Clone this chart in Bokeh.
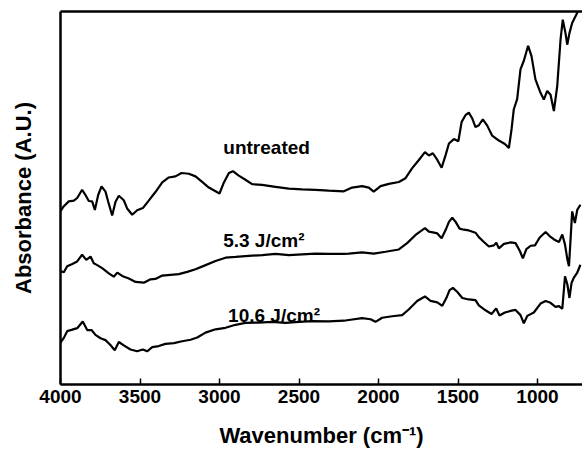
from bokeh.plotting import figure
from bokeh.models import Range1d, FixedTicker, LinearAxis, Label
from bokeh.embed import file_html
from bokeh.resources import INLINE

# ---- data (wavenumber in cm^-1, absorbance in arbitrary units) ----
wn_untreated = [4000, 3979, 3948, 3916, 3895, 3864, 3843, 3822, 3801, 3784, 3763, 3742, 3717, 3700,
                3675, 3654, 3633, 3602, 3581, 3549, 3518, 3482, 3445, 3403, 3360, 3319, 3277, 3239,
                3193, 3151, 3109, 3067, 3025, 3000, 2973, 2941, 2916, 2879, 2837, 2795, 2732, 2648,
                2564, 2480, 2396, 2313, 2218, 2166, 2103, 2061, 2030, 1987, 1935, 1872, 1830, 1788,
                1746, 1708, 1683, 1658, 1630, 1603, 1578, 1557, 1526, 1498, 1477, 1453, 1432, 1410,
                1390, 1369, 1344, 1316, 1285, 1243, 1205, 1180, 1163, 1149, 1128, 1107, 1086, 1059,
                1038, 1013, 981, 960, 939, 918, 897, 876, 855, 841, 824, 813, 799, 782, 761, 740]
abs_untreated = [46.5, 47.8, 49.1, 49.3, 50.0, 52.2, 50.8, 49.2, 49.1, 46.8, 50.8, 53.1, 51.7, 49.0,
                 45.3, 49.0, 50.6, 49.4, 47.2, 45.5, 46.7, 47.3, 49.3, 51.6, 54.2, 55.5, 55.8, 56.7,
                 56.5, 55.8, 54.3, 52.8, 51.8, 51.2, 54.1, 56.7, 57.2, 56.0, 54.9, 53.7, 53.5, 53.0,
                 52.5, 52.3, 52.2, 52.0, 51.8, 52.8, 53.2, 52.8, 51.7, 53.2, 53.8, 54.3, 55.3, 58.0,
                 60.2, 62.3, 61.4, 62.0, 60.2, 58.1, 61.5, 64.6, 65.8, 65.2, 70.4, 72.2, 72.9, 71.3,
                 69.0, 69.5, 71.1, 69.4, 66.7, 65.4, 64.5, 63.4, 68.5, 73.8, 76.5, 84.5, 86.8, 90.8,
                 88.1, 81.8, 78.2, 76.4, 78.7, 77.7, 73.3, 80.0, 92.5, 97.8, 94.2, 91.1, 94.2, 96.9,
                 98.7, 100.5]

wn_53 = [4000, 3979, 3958, 3926, 3895, 3864, 3838, 3811, 3791, 3769, 3738, 3696, 3665, 3643, 3612,
         3570, 3528, 3476, 3434, 3403, 3360, 3308, 3256, 3203, 3151, 3099, 3025, 2962, 2899, 2816,
         2731, 2648, 2564, 2480, 2396, 2313, 2218, 2187, 2103, 2030, 1956, 1872, 1820, 1767, 1708,
         1683, 1658, 1630, 1603, 1578, 1557, 1536, 1515, 1490, 1463, 1432, 1390, 1369, 1337, 1306,
         1274, 1259, 1243, 1211, 1169, 1138, 1111, 1092, 1070, 1043, 1016, 986, 949, 924, 896, 865,
         844, 827, 812, 802, 791, 782, 765, 750, 730]
abs_53 = [30.4, 30.1, 31.7, 32.3, 33.0, 34.8, 33.4, 34.3, 32.5, 32.0, 31.2, 29.8, 28.9, 30.0, 29.1,
          28.4, 27.5, 27.3, 28.2, 28.3, 29.2, 29.4, 29.6, 30.2, 30.9, 31.8, 33.1, 34.0, 34.2, 34.5,
          34.7, 35.0, 34.7, 34.9, 35.1, 35.0, 35.0, 35.1, 35.4, 35.1, 35.6, 36.2, 37.9, 40.1, 41.9,
          41.0, 40.8, 40.5, 39.2, 41.4, 43.6, 44.7, 43.6, 41.8, 41.5, 41.3, 40.7, 39.5, 38.2, 37.0,
          37.3, 38.0, 36.5, 37.7, 38.1, 37.9, 35.8, 33.8, 36.3, 37.2, 37.3, 39.4, 40.9, 39.8, 38.9, 38.2,
          40.2, 37.5, 33.5, 31.7, 39.7, 46.4, 43.3, 46.8, 48.2]

wn_106 = [4000, 3979, 3958, 3926, 3895, 3860, 3832, 3805, 3780, 3748, 3717, 3686, 3659, 3633, 3602,
          3560, 3518, 3482, 3455, 3423, 3382, 3340, 3287, 3235, 3182, 3140, 3088, 3025, 2962, 2899,
          2837, 2753, 2669, 2585, 2501, 2417, 2313, 2218, 2187, 2103, 2050, 2019, 1977, 1914, 1851,
          1810, 1757, 1708, 1673, 1630, 1599, 1574, 1553, 1532, 1504, 1473, 1432, 1390, 1369, 1327,
          1289, 1260, 1239, 1205, 1163, 1138, 1107, 1086, 1064, 1023, 981, 949, 918, 887, 865, 844,
          827, 812, 799, 786, 772, 751, 730]
abs_106 = [11.2, 12.5, 14.3, 14.7, 15.1, 16.9, 14.6, 14.6, 13.3, 12.4, 11.9, 10.6, 9.2, 11.4, 10.5,
           9.4, 8.9, 9.4, 8.9, 10.0, 10.3, 10.9, 11.1, 11.6, 12.0, 12.6, 13.9, 14.8, 15.2, 16.0,
           16.5, 16.6, 16.8, 16.5, 16.8, 17.0, 16.9, 17.1, 17.3, 17.8, 17.5, 16.8, 17.9, 18.3, 18.6,
           20.1, 22.4, 23.6, 22.4, 22.0, 21.1, 23.1, 25.3, 25.9, 24.8, 23.2, 22.8, 22.6, 21.2, 19.9,
           18.9, 20.4, 18.5, 19.3, 19.8, 20.0, 18.6, 16.4, 18.4, 19.3, 21.7, 22.4, 21.9, 20.8, 21.0, 20.3,
           29.0, 26.8, 23.2, 27.2, 28.6, 29.9, 32.1]

x_ticks = [4000, 3500, 3000, 2500, 2000, 1500, 1000]
series_labels = ["untreated", "5.3 J/cm\u00b2", "10.6 J/cm\u00b2"]

FONT = "Liberation Sans"

p = figure(width=582, height=466, x_range=Range1d(4000, 717), y_range=Range1d(0, 100),
           output_backend="svg", toolbar_location=None,
           min_border_left=60, min_border_right=0, min_border_top=11, min_border_bottom=82)
p.outline_line_color = None
p.xgrid.visible = False
p.ygrid.visible = False
p.background_fill_color = "white"
p.border_fill_color = "white"

for xs, ys in [(wn_untreated, abs_untreated), (wn_53, abs_53), (wn_106, abs_106)]:
    p.line(xs, ys, line_color="black", line_width=2.2)

# x axis
xa = p.xaxis[0]
xa.ticker = FixedTicker(ticks=x_ticks)
xa.minor_tick_line_color = None
xa.major_tick_in = 6
xa.major_tick_out = 0
xa.major_tick_line_width = 1.5
xa.axis_line_width = 2.5
xa.major_label_standoff = 5
xa.major_label_text_font = FONT
xa.major_label_text_font_style = "bold"
xa.major_label_text_font_size = "19px"
xa.major_label_text_color = "black"
xa.axis_label = "Wavenumber (cm\u207b\u00b9)"
xa.axis_label_text_font = FONT
xa.axis_label_text_font_style = "bold"
xa.axis_label_text_font_size = "22px"
xa.axis_label_standoff = 17
xa.axis_label_text_color = "black"

# y axis
ya = p.yaxis[0]
ya.ticker = FixedTicker(ticks=[])
ya.minor_tick_line_color = None
ya.major_tick_line_color = None
ya.axis_line_width = 2.5
ya.axis_label = "Absorbance (A.U.)"
ya.axis_label_text_font = FONT
ya.axis_label_text_font_style = "bold"
ya.axis_label_text_font_size = "22px"
ya.axis_label_standoff = 25
ya.axis_label_text_color = "black"

# top border
top = LinearAxis(ticker=FixedTicker(ticks=[]), axis_line_width=2.5,
                 major_tick_line_color=None, minor_tick_line_color=None)
p.add_layout(top, "above")

label_pos = [(2976, 63.6), (2977, 38.6), (2946, 18.5)]
for txt, (lx, ly) in zip(series_labels, label_pos):
    p.add_layout(Label(x=lx, y=ly, text=txt, text_font=FONT, text_font_style="bold",
                       text_font_size="19px", text_align="left", text_baseline="alphabetic",
                       text_color="black"))

open("out.html", "w").write(file_html(p, INLINE))
